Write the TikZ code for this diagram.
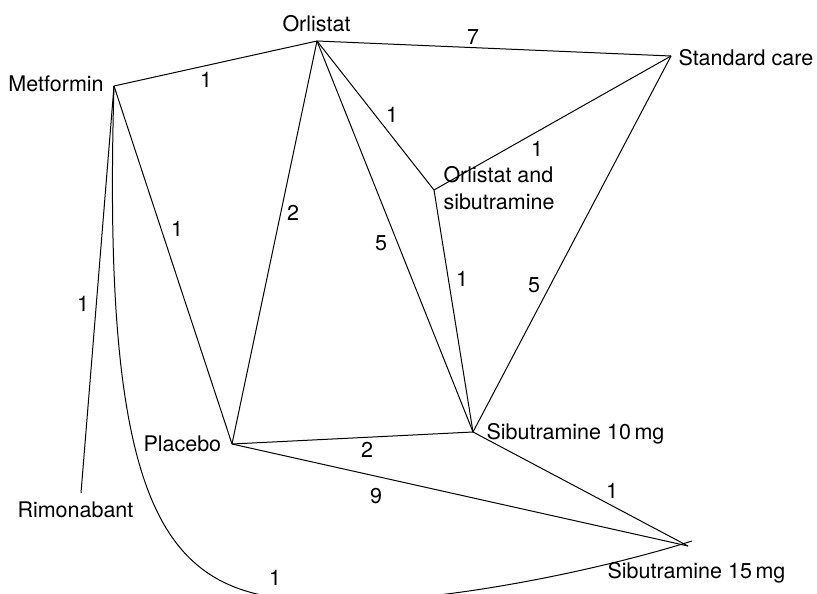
\documentclass[tikz,border=0pt]{standalone}
\usepackage{fontspec}
\setmainfont{TeX Gyre Heros}
\begin{document}
\begin{tikzpicture}[x=1pt,y=-1pt,line width=1pt,
  lbl/.style={font=\fontsize{21.5}{27}\selectfont,inner sep=0pt,anchor=base west},
  num/.style={font=\fontsize{21.5}{27}\selectfont,inner sep=0pt}]
\useasboundingbox (0,0) rectangle (817,594);
\clip (0,0) rectangle (817,594);
% points
\coordinate (orl) at (317,41);
\coordinate (met) at (114,86);
\coordinate (std) at (671,56);
\coordinate (os) at (434,190);
\coordinate (pla) at (232,444);
\coordinate (rim) at (81,493);
\coordinate (s10) at (473,432);
\coordinate (s15) at (688,546);
\coordinate (s15e) at (692,541);
\coordinate (bot) at (350,601);
% labels
\node[lbl] (Lorl) at (282,32) {Orlistat};
\node[lbl] (Lmet) at (8,92) {Metformin};
\node[lbl] (Lstd) at (678,66) {Standard care};
\node[lbl] (Los1) at (443,182) {Orlistat and};
\node[lbl] (Los2) at (443,209) {sibutramine};
\node[lbl] (Lpla) at (143,451) {Placebo};
\node[lbl] (Lrim) at (17,517) {Rimonabant};
\node[lbl] (Ls10) at (486,439) {Sibutramine 10\,mg};
\node[lbl] (Ls15) at (607,578) {Sibutramine 15\,mg};
% edges
\draw (met) -- (orl);
\draw (orl) -- (std);
\draw (orl) -- (os);
\draw (std) -- (os);
\draw (met) -- (pla);
\draw (orl) -- (pla);
\draw (orl) -- (s10);
\draw (os) -- (s10);
\draw (std) -- (s10);
\draw (met) -- (rim);
\draw (pla) -- (s10);
\draw (pla) -- (s15);
\draw (s10) -- (s15);
\draw (met) .. controls (100,560) and (180,605) .. (bot)
            .. controls (450,601) and (600,570) .. (s15e);
% edge labels
\node[num] (n1) at (206,80) {1};
\node[num] (n2) at (473,37) {7};
\node[num] (n3) at (392,115) {1};
\node[num] (n4) at (537,149) {1};
\node[num] (n5) at (177,229) {1};
\node[num] (n6) at (293,213) {2};
\node[num] (n7) at (381,243) {5};
\node[num] (n8) at (462,279) {1};
\node[num] (n9) at (534,285) {5};
\node[num] (n10) at (83,304) {1};
\node[num] (n11) at (367,450) {2};
\node[num] (n12) at (376,496) {9};
\node[num] (n13) at (612,491) {1};
\node[num] (n14) at (275,578) {1};
\end{tikzpicture}
\end{document}
